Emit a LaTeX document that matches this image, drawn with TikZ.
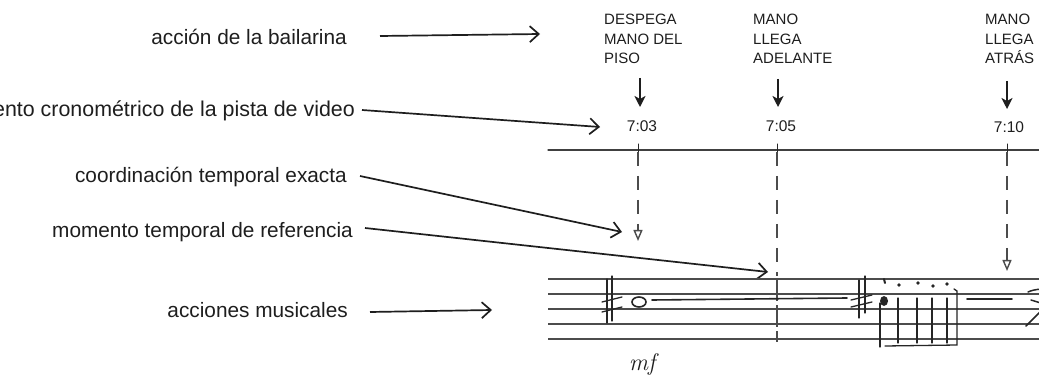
\documentclass[tikz,border=0pt]{standalone}
\usepackage{fontspec}
\setmainfont{Liberation Sans}
\newfontfamily\lmfont{Latin Modern Roman}
\usetikzlibrary{arrows.meta}
\definecolor{ink}{HTML}{1E1E1E}
\begin{document}
\begin{tikzpicture}[x=1pt,y=-1pt,
  lab/.style={font=\fontsize{20.8}{25}\selectfont, inner sep=0pt, anchor=base east, text=ink},
  evt/.style={font=\fontsize{15}{19.5}\selectfont, inner sep=0pt, anchor=north west, align=left, text=ink},
  tm/.style={font=\fontsize{15.5}{18}\selectfont, inner sep=0pt, text=ink},
  conn/.style={draw=ink, line width=1.7pt, -{Straight Barb[length=9pt,width=16pt]}},
  down/.style={draw=ink, line width=2.2pt, -{Stealth[length=11pt,width=11pt,inset=3pt]}},
  guide/.style={draw=black!70, line width=1.1pt, dash pattern=on 14pt off 10pt},
  guidetip/.style={-{Triangle[open,length=11pt,width=9pt,line width=1.4pt]}},
  staff/.style={draw=black!70, line width=1.3pt},
  pen/.style={draw=black!85, line width=1.3pt, line cap=round},
]
\useasboundingbox (0,0) rectangle (1039,382);
\clip (0,0) rectangle (1039,382);
\fill[white] (0,0) rectangle (1039,382);

% left labels
\node[lab] (l1) at (347,45) {acción de la bailarina};
\node[lab, font=\fontsize{21.4}{25}\selectfont] (l2) at (355,117) {momento cronométrico de la pista de video};
\node[lab] (l3) at (347,183) {coordinación temporal exacta};
\node[lab] (l4) at (353,237) {momento temporal de referencia};
\node[lab] (l5) at (348,317) {acciones musicales};

% connector end points
\coordinate (s1) at (380,36);  \coordinate (c1) at (540,34);
\coordinate (s2) at (362,110); \coordinate (c2) at (600,127);
\coordinate (s3) at (360,176); \coordinate (c3) at (622,232);
\coordinate (s4) at (365,228); \coordinate (c4) at (768,272);
\coordinate (s5) at (370,312); \coordinate (c5) at (492,310);
\draw[conn] (s1) -- (c1);
\draw[conn] (s2) -- (c2);
\draw[conn] (s3) -- (c3);
\draw[conn] (s4) -- (c4);
\draw[conn] (s5) -- (c5);

% dancer events
\node[evt] (e1) at (604,14) {DESPEGA\\MANO DEL\\PISO};
\node[evt] (e2) at (753,14) {MANO\\LLEGA\\ADELANTE};
\node[evt] (e3) at (985,14) {MANO\\LLEGA\\ATRÁS};

% times
\node[tm] (t1) at (642,126) {7:03};
\node[tm] (t2) at (781,126) {7:05};
\node[tm] (t3) at (1009,127) {7:10};

\coordinate (a1) at (640,78);  \coordinate (b1) at (640,107);
\coordinate (a2) at (778,79);  \coordinate (b2) at (778,107);
\coordinate (a3) at (1007,81); \coordinate (b3) at (1007,109);
\draw[down] (a1) -- (b1);
\draw[down] (a2) -- (b2);
\draw[down] (a3) -- (b3);

% timeline
\coordinate (tl0) at (548,150); \coordinate (tl1) at (1045,150);
\draw[pen, draw=black!75] (tl0) -- (tl1);
\foreach \x in {638,777,1007} \draw[pen, line width=1pt] (\x,144) -- (\x,158);

% vertical guides
\draw[guide, guidetip] (638,152) -- (638,241);
\draw[guide] (777,152) -- (777,276);
\draw[guide, dash pattern=on 22pt off 4pt] (777,279) -- (777,342);
\draw[guide, guidetip] (1007,152) -- (1007,271);

% staff
\foreach \y in {279,294,309,324,339} \draw[staff] (548,\y) -- (1045,\y);

% first sharp and whole note
\draw[pen] (607,279) -- (607,323);
\draw[pen] (612,276) -- (612,321);
\draw[pen] (602,302) -- (622,297);
\draw[pen] (602,312) -- (622,307);
\draw[pen, line width=1.6pt] (639,302) ellipse (7pt and 5pt);
\draw[pen, line width=1.6pt] (652,300) -- (847,298);
\node[inner sep=0pt, text=ink, font=\lmfont\itshape\fontsize{24}{26}\selectfont] (mf) at (642,364) {mf};

% second sharp
\draw[pen] (859,280) -- (859,318);
\draw[pen] (865,276) -- (865,313);
\draw[pen] (851,300) -- (872,295);
\draw[pen] (851,307) -- (872,302);

% notes with staccato dots
\fill[black!85] (884,301) ellipse (4pt and 5pt);
\draw[pen] (880,303) -- (880,347);
\foreach \x in {898,917,932,947} \draw[pen] (\x,298) -- (\x,343);
\draw[pen] (885,346) -- (957,345) -- (957,291) -- (954,289);
\draw[pen, line width=2pt] (884,279) -- (885,283);
\foreach \x/\y in {899/285,918/283,933/286,947/284} \fill[black!85] (\x,\y) circle (1.8pt);

% ending line and figure
\draw[pen, line width=1.8pt] (967,299) -- (1012,299);
\draw[pen, line width=1.5pt] (1028,292) .. controls (1035,289) and (1040,289) .. (1044,290);
\draw[pen, line width=1.5pt] (1031,300) -- (1044,304);
\draw[pen, line width=1.5pt] (1026,326) -- (1042,310);
\end{tikzpicture}
\end{document}
